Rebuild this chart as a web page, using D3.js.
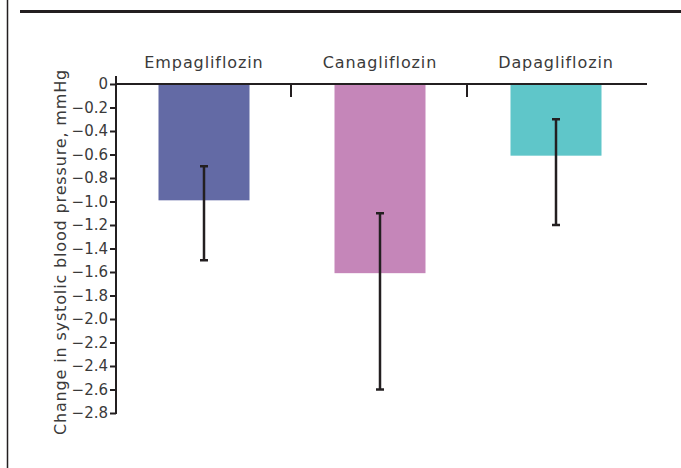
<!DOCTYPE html>
<html>
<head>
<meta charset="utf-8">
<script src="https://cdn.jsdelivr.net/npm/d3@7"></script>
<style>
  body { margin: 0; background: #fff; }
  text { font-family: "DejaVu Sans", sans-serif; fill: #3a3a3a; }
</style>
</head>
<body>
<script>
// data
var drugs = ["Empagliflozin", "Canagliflozin", "Dapagliflozin"];
var meanChange = [-0.99, -1.61, -0.61];
var errTop = [-0.7, -1.1, -0.3];
var errBottom = [-1.5, -2.6, -1.2];
var barColors = ["#636aa5", "#c586b9", "#5fc6c9"];
var yTicks = [0, -0.2, -0.4, -0.6, -0.8, -1.0, -1.2, -1.4, -1.6, -1.8, -2.0, -2.2, -2.4, -2.6, -2.8];

var W = 681, H = 468;
var margin = {top: 84, left: 116};

var svg = d3.select("body")
            .append("svg")
            .attr("width", W)
            .attr("height", H);

// frame: left rule and thick top rule
svg.append("line")
   .attr("x1", 7.5).attr("x2", 7.5)
   .attr("y1", 0).attr("y2", H)
   .attr("stroke", "#231f20").attr("stroke-width", 1.5);
svg.append("line")
   .attr("x1", 20).attr("x2", W)
   .attr("y1", 11.5).attr("y2", 11.5)
   .attr("stroke", "#231f20").attr("stroke-width", 3);

var xScale = d3.scaleBand()
               .domain(drugs)
               .range([116, 644])
               .paddingInner(0)
               .paddingOuter(0);

var yScale = d3.scaleLinear()
               .domain([0, -2.8])
               .range([84, 413]);

var data = drugs.map(function(d, i) {
  return {drug: d, value: meanChange[i], lo: errBottom[i], hi: errTop[i], color: barColors[i]};
});

var barW = 91;

// bars
svg.selectAll("rect.bar")
   .data(data)
   .enter()
   .append("rect")
   .attr("class", "bar")
   .attr("x", function(d) { return xScale(d.drug) + xScale.bandwidth()/2 - barW/2; })
   .attr("y", yScale(0))
   .attr("width", barW)
   .attr("height", function(d) { return yScale(d.value) - yScale(0); })
   .attr("fill", function(d) { return d.color; });

// y axis
var yAxis = svg.append("g")
               .attr("transform", "translate(" + margin.left + ",0)")
               .call(d3.axisLeft(yScale)
                       .tickValues(yTicks)
                       .tickSize(6)
                       .tickPadding(2)
                       .tickFormat(function(d) { return d === 0 ? "0" : d3.format(".1f")(d); }));
yAxis.select(".domain").remove();
yAxis.selectAll("line").attr("stroke", "#231f20").attr("stroke-width", 2);
yAxis.selectAll("text").style("font-size", "15px").attr("fill", "#3a3a3a");
yAxis.append("line")
     .attr("x1", 0).attr("x2", 0)
     .attr("y1", 76).attr("y2", yScale(-2.8) + 1)
     .attr("stroke", "#231f20").attr("stroke-width", 2);

// x axis along zero, ticks pointing down between groups
svg.append("line")
   .attr("x1", margin.left).attr("x2", 647)
   .attr("y1", yScale(0)).attr("y2", yScale(0))
   .attr("stroke", "#231f20").attr("stroke-width", 2);
svg.selectAll("line.sep")
   .data(drugs.slice(1))
   .enter()
   .append("line")
   .attr("class", "sep")
   .attr("x1", function(d) { return xScale(d) - 1; })
   .attr("x2", function(d) { return xScale(d) - 1; })
   .attr("y1", yScale(0))
   .attr("y2", yScale(0) + 13)
   .attr("stroke", "#231f20").attr("stroke-width", 2);

// category labels
svg.selectAll("text.cat")
   .data(data)
   .enter()
   .append("text")
   .attr("class", "cat")
   .attr("x", function(d) { return xScale(d.drug) + xScale.bandwidth()/2; })
   .attr("y", 68)
   .style("font-size", "16px")
   .style("letter-spacing", "0.9px")
   .style("text-anchor", "middle")
   .text(function(d) { return d.drug; });

// error bars
var err = svg.selectAll("g.err")
             .data(data)
             .enter()
             .append("g")
             .attr("class", "err")
             .attr("stroke", "#231f20")
             .attr("stroke-width", 2.5);
err.append("line")
   .attr("x1", function(d) { return xScale(d.drug) + xScale.bandwidth()/2; })
   .attr("x2", function(d) { return xScale(d.drug) + xScale.bandwidth()/2; })
   .attr("y1", function(d) { return yScale(d.hi); })
   .attr("y2", function(d) { return yScale(d.lo); });
["hi", "lo"].forEach(function(k) {
  err.append("line")
     .attr("x1", function(d) { return xScale(d.drug) + xScale.bandwidth()/2 - 4; })
     .attr("x2", function(d) { return xScale(d.drug) + xScale.bandwidth()/2 + 4; })
     .attr("y1", function(d) { return yScale(d[k]); })
     .attr("y2", function(d) { return yScale(d[k]); });
});

// y-axis title
svg.append("text")
   .attr("transform", "rotate(-90)")
   .attr("x", -252)
   .attr("y", 66)
   .style("font-size", "16px")
   .style("letter-spacing", "0.85px")
   .style("text-anchor", "middle")
   .text("Change in systolic blood pressure, mmHg");
</script>
</body>
</html>
